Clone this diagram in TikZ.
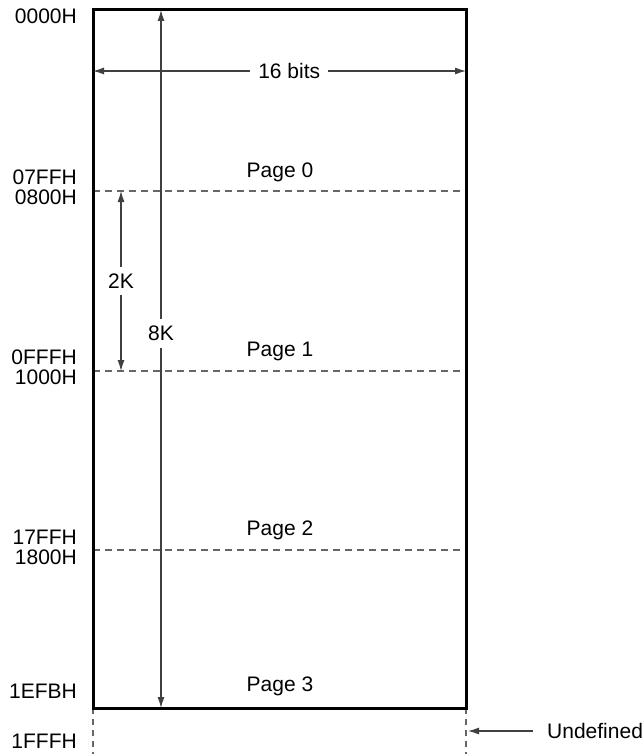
\documentclass[tikz,border=0pt]{standalone}
\usepackage{fontspec}
\setmainfont{Liberation Sans}
\usetikzlibrary{arrows.meta}
\begin{document}
\begin{tikzpicture}[x=1pt,y=-1pt,
  lbl/.style={font=\fontsize{21}{25}\selectfont, inner sep=1pt},
  addr/.style={lbl, anchor=east},
  dim/.style={line width=1.1pt, draw=black!75, {Latex[length=11pt,width=7pt]}-{Latex[length=11pt,width=7pt]}},
  onearrow/.style={line width=1.1pt, draw=black!75, -{Latex[length=11pt,width=7pt]}},
  pageline/.style={line width=1.1pt, draw=black!60, dash pattern=on 7pt off 5pt},
  cut/.style={fill=white, inner xsep=8pt, inner ysep=7pt}]
\useasboundingbox (0,0) rectangle (644,754);
% corners
\coordinate (tl) at (93,10);
\coordinate (tr) at (466,10);
\coordinate (bl) at (93,708);
\coordinate (br) at (466,708);
\coordinate (bl2) at (93,754);
\coordinate (br2) at (466,754);
% page boundaries
\coordinate (p1l) at (93,191); \coordinate (p1r) at (466,191);
\coordinate (p2l) at (93,371); \coordinate (p2r) at (466,371);
\coordinate (p3l) at (93,550); \coordinate (p3r) at (466,550);
\draw[pageline] (p1l) -- (p1r);
\draw[pageline] (p2l) -- (p2r);
\draw[pageline] (p3l) -- (p3r);
% undefined region sides
\draw[pageline, dash pattern=on 6pt off 5pt] (bl) -- (bl2);
\draw[pageline, dash pattern=on 6pt off 5pt] (br) -- (br2);
% main box
\draw[line width=3pt] (tl) rectangle (br);
% 8K arrow
\coordinate (k8t) at (161,10);
\coordinate (k8b) at (161,708);
\draw[dim] (k8t) -- node[lbl, cut, pos=0.463] (k8) {8K} (k8b);
% 2K arrow
\coordinate (k2t) at (121,191);
\coordinate (k2b) at (121,371);
\draw[dim] (k2t) -- node[lbl, cut, pos=0.5] (k2) {2K} (k2b);
% 16 bits arrow
\coordinate (b16l) at (93,71);
\coordinate (b16r) at (466,71);
\draw[dim] (b16l) -- node[lbl, cut, pos=0.526] (b16) {16 bits} (b16r);
% page labels
\node[lbl] (pg0) at (280,172) {Page 0};
\node[lbl] (pg1) at (280,351) {Page 1};
\node[lbl] (pg2) at (280,530) {Page 2};
\node[lbl] (pg3) at (280,686) {Page 3};
% addresses
\node[addr] (a0) at (78,16) {0000H};
\node[addr] (a1) at (78,177) {07FFH};
\node[addr] (a2) at (78,197) {0800H};
\node[addr] (a3) at (78,357) {0FFFH};
\node[addr] (a4) at (78,377) {1000H};
\node[addr] (a5) at (78,537) {17FFH};
\node[addr] (a6) at (78,557) {1800H};
\node[addr] (a7) at (78,691) {1EFBH};
\node[addr] (a8) at (78,741) {1FFFH};
% undefined
\node[lbl, anchor=west] (undef) at (546,731) {Undefined};
\coordinate (uend) at (468,731);
\draw[onearrow] (533,731) coordinate (ustart) -- (uend);
\end{tikzpicture}
\end{document}
